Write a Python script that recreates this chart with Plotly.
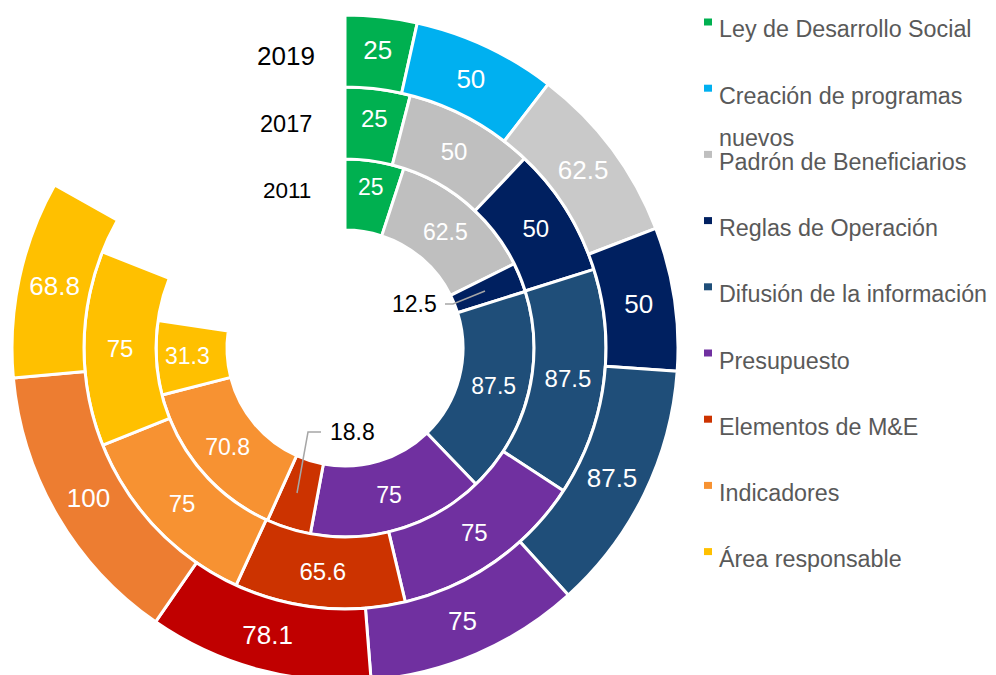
import plotly.graph_objects as go

# ---------------- data ----------------
categories = ["Ley de Desarrollo Social", "Creación de programas nuevos", "Padrón de Beneficiarios",
              "Reglas de Operación", "Difusión de la información", "Presupuesto",
              "Elementos de M&E", "Indicadores", "Área responsable"]
legend_labels = ["Ley de Desarrollo Social", "Creación de programas", "Padrón de Beneficiarios",
                 "Reglas de Operación", "Difusión de la información", "Presupuesto",
                 "Elementos de M&E", "Indicadores", "Área responsable"]
years = ["2011", "2017", "2019"]
values_2011 = [25, None, 62.5, 12.5, 87.5, 75, 18.8, 70.8, 31.3]
values_2017 = [25, None, 50, 50, 87.5, 75, 65.6, 75, 75]
values_2019 = [25, 50, 62.5, 50, 87.5, 75, 78.1, 100, 68.8]
hidden_remainder = [112.5, 118, 121]   # invisible slice that closes each ring (the empty gap)

legend_colors = ["#00B050", "#00B0F0", "#BFBFBF", "#002060", "#1F4E79", "#7030A0", "#CC3300", "#F79232", "#FFC000"]
colors_2011 = ["#00B050", "#00B0F0", "#BFBFBF", "#002060", "#1F4E79", "#7030A0", "#CC3300", "#F79232", "#FFC000"]
colors_2017 = ["#00B050", "#00B0F0", "#BFBFBF", "#002060", "#1F4E79", "#7030A0", "#CC3300", "#F79232", "#FFC000"]
colors_2019 = ["#00B050", "#00B0F0", "#C9C9C9", "#002060", "#1F4E79", "#7030A0", "#C00000", "#ED7D31", "#FFC000"]

# ---------------- layout helpers ----------------
W, H = 996, 675
OFF = 8                      # default page margin of the html body
FONT = "Liberation Sans, Arial, sans-serif"
CX, CY = 345, 348            # ring centre, in window pixels
RADII = [118, 189, 261, 333]
ring_font = [23, 24, 26]
OUTSIDE_MIN = 20             # slices smaller than this get an external callout


def px(x):
    return (x - OFF) / W


def py(y):
    return 1 - (y - OFF) / H


def fmt(v):
    return "%g" % v


rings = [(values_2011, colors_2011), (values_2017, colors_2017), (values_2019, colors_2019)]

fig = go.Figure()
for i, (vals, cols) in enumerate(rings):
    r_out = RADII[i + 1]
    hole = RADII[i] / r_out
    labs, vs, cs, txt = [], [], [], []
    for c, v, col in zip(categories, vals, cols):
        if v is None:
            continue
        labs.append(c)
        vs.append(v)
        cs.append(col)
        txt.append(fmt(v) if v >= OUTSIDE_MIN else "")
    n = len(vs)
    labs.append("resto")
    vs.append(hidden_remainder[i])
    cs.append("rgba(0,0,0,0)")
    txt.append("")
    x0, x1 = px(CX - r_out), px(CX + r_out)
    y0, y1 = py(CY + r_out), py(CY - r_out)
    fig.add_trace(go.Pie(
        labels=labs, values=vs, text=txt, textinfo="text",
        sort=False, direction="clockwise", rotation=0, hole=hole,
        domain=dict(x=[max(0, x0), min(1, x1)], y=[max(0, y0), min(1, y1)]),
        marker=dict(colors=cs, line=dict(color=["white"] * n + ["rgba(0,0,0,0)"], width=3)),
        textposition="inside", insidetextorientation="horizontal",
        textfont=dict(color="white", size=ring_font[i], family=FONT),
        hoverinfo="skip", showlegend=False,
    ))

annotations = []
shapes = []

# year labels
year_pos = [(287, 190, 22.5), (286, 124, 23.5), (286, 56, 26)]
for yr, (x, y, s) in zip(years, year_pos):
    annotations.append(dict(x=px(x), y=py(y), xref="paper", yref="paper", text=yr, showarrow=False,
                            xanchor="center", yanchor="middle", font=dict(size=s, color="black", family=FONT)))


def path(points):
    return "M " + " L ".join("%f,%f" % (px(a), py(b)) for a, b in points)


# callouts for the small slices
callouts = [("12.5", (414, 304), [(445, 304), (453, 304), (485, 291)]),
            ("18.8", (352, 432), [(321, 432), (308, 432), (297, 493)])]
for t, (x, y), pts in callouts:
    annotations.append(dict(x=px(x), y=py(y), xref="paper", yref="paper", text=t, showarrow=False,
                            xanchor="center", yanchor="middle", font=dict(size=23, color="black", family=FONT)))
    shapes.append(dict(type="path", xref="paper", yref="paper", path=path(pts),
                       line=dict(color="#A6A6A6", width=1.5)))

# legend
LEG_Y0, LEG_STEP = 29.5, 66.2
LEG_FONT = 23.3
for k, (lab, col) in enumerate(zip(legend_labels, legend_colors)):
    yc = LEG_Y0 + k * LEG_STEP
    shapes.append(dict(type="rect", xref="paper", yref="paper", x0=px(704), x1=px(712),
                       y0=py(yc - 4), y1=py(yc - 11), fillcolor=col, line=dict(width=0)))
    annotations.append(dict(x=px(717), y=py(yc), xref="paper", yref="paper", text=lab, showarrow=False,
                            xanchor="left", yanchor="middle", font=dict(size=LEG_FONT, color="#595959", family=FONT)))
    if k == 1:
        annotations.append(dict(x=px(717), y=py(yc + 42), xref="paper", yref="paper", text="nuevos",
                                showarrow=False, xanchor="left", yanchor="middle",
                                font=dict(size=LEG_FONT, color="#595959", family=FONT)))

fig.update_layout(width=W, height=H, margin=dict(l=0, r=0, t=0, b=0),
                  paper_bgcolor="white", plot_bgcolor="white", showlegend=False,
                  annotations=annotations, shapes=shapes, font=dict(family=FONT))
fig.write_html("out.html")
